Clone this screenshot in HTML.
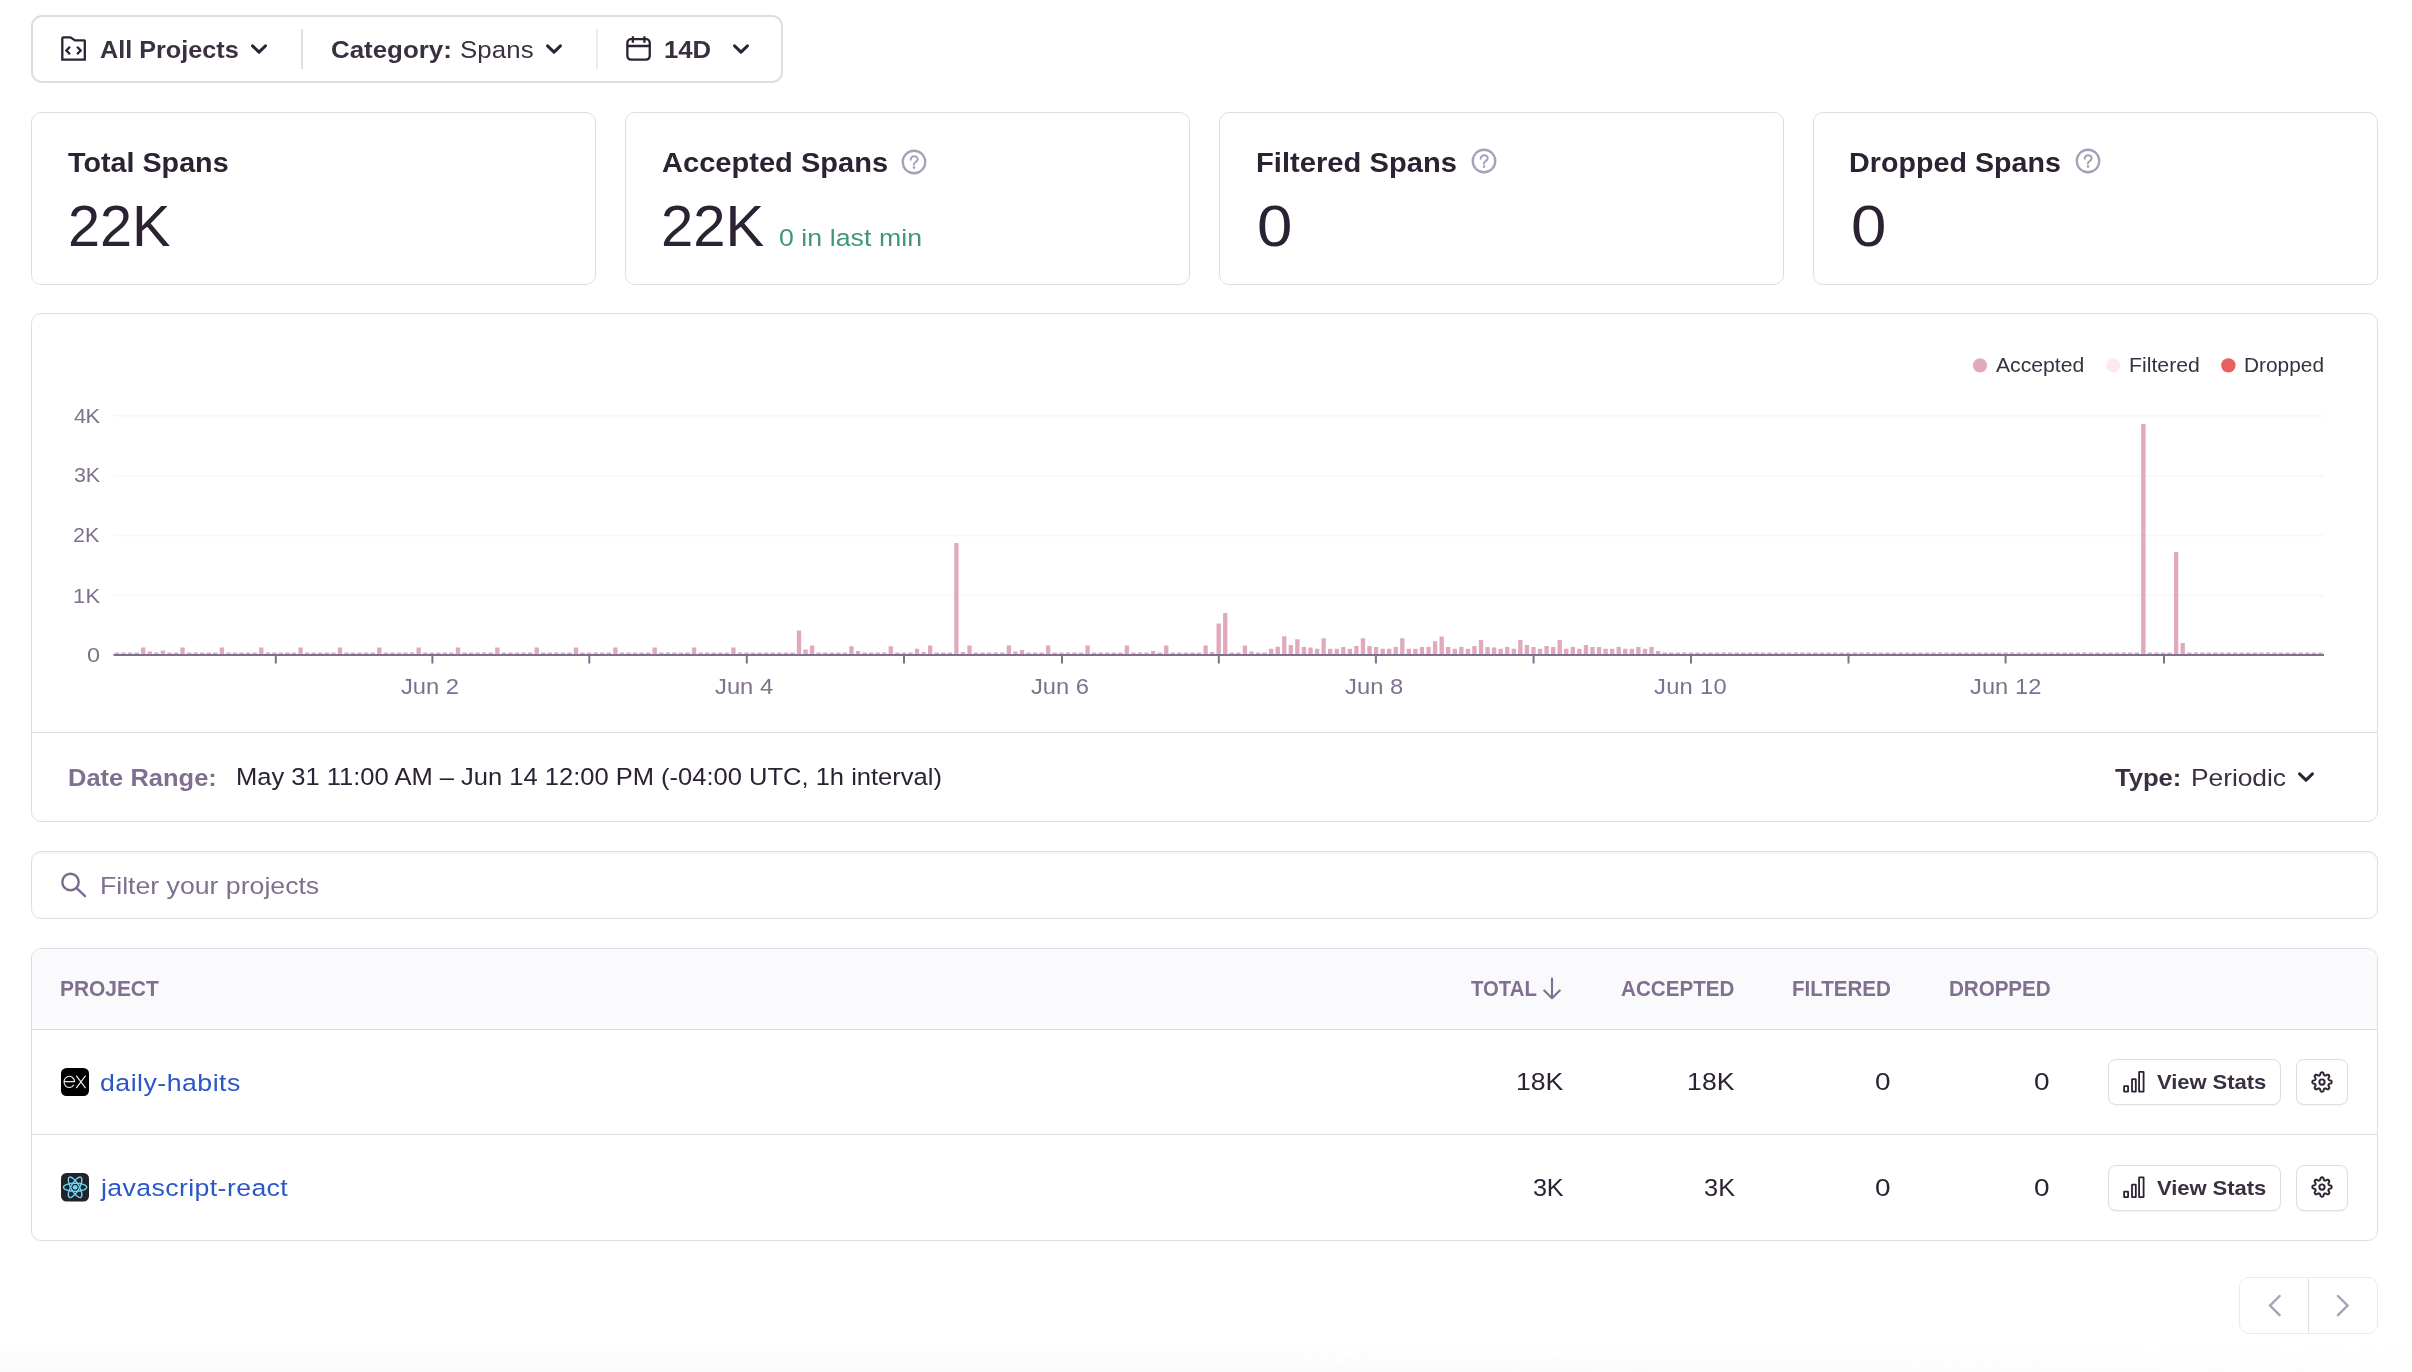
<!DOCTYPE html><html lang="en"><head><meta charset="utf-8"><title>Stats</title><style>
*{box-sizing:border-box}
html,body{margin:0;padding:0}
body{width:2412px;height:1372px;position:relative;overflow:hidden;background:#fff;font-family:'Liberation Sans',sans-serif;color:#2b2233}
#root{position:absolute;left:0;top:0;width:2412px;height:1372px;will-change:transform}
.t{position:absolute;white-space:nowrap;font-family:'Liberation Sans',sans-serif;display:inline-block;transform-origin:0 50%}
.i{position:absolute;overflow:visible}
.box{position:absolute;border:1px solid #e0dce5;border-radius:10px;background:#fff}
.btn{position:absolute;border:1px solid #e0dce5;border-radius:8px;background:#fff;box-shadow:0 1px 1px rgba(43,34,51,.05)}
.ln{position:absolute;background:#e0dce5}
a{text-decoration:none;color:inherit}
</style></head><body><div id="root">
<div style="position:absolute;left:0;top:1342px;width:2412px;height:30px;background:linear-gradient(to bottom,rgba(250,250,250,0),#fafafa);-webkit-mask-image:linear-gradient(to right,#000 0%,#000 45%,rgba(0,0,0,.35) 100%);mask-image:linear-gradient(to right,#000 0%,#000 45%,rgba(0,0,0,.35) 100%)"></div>
<div class="box" style="left:31px;top:15px;width:752px;height:68px;border-width:2px;border-radius:11px"></div>
<svg class="i" style="left:58px;top:33px" width="32" height="32" viewBox="58 33 32 32" ><path d="M62.3 59.7 V38.6 Q62.3 37.3 63.6 37.3 H70.4 L75.0 40.4 H84.2 Q84.8 40.4 84.8 41.0 V59.7 Z" fill="none" stroke="#2b2233" stroke-width="2.3" stroke-linejoin="miter"/><path d="M70 46.8 L66.4 50.5 L70 54.2 M77.1 46.8 L80.7 50.5 L77.1 54.2" fill="none" stroke="#2b2233" stroke-width="2.3"/></svg>
<span class="t" style="left:100.02px;top:34px;font-size:24.50px;letter-spacing:0.00px;line-height:32px;font-weight:700;color:#3a3042;transform:scaleX(1.0285)">All Projects</span>
<svg class="i" style="left:248.64999999999998px;top:40.8px" width="20" height="16" viewBox="248.64999999999998 40.8 20 16" ><path d="M252.20 45.70 L258.65 51.90 L265.10 45.70" fill="none" stroke="#2b2233" stroke-width="3" stroke-linecap="round" stroke-linejoin="round"/></svg>
<div class="ln" style="left:301px;top:29px;width:2px;height:40px"></div>
<span class="t" style="left:330.76px;top:34px;font-size:24.50px;letter-spacing:-0.01px;line-height:32px;font-weight:700;color:#3a3042;transform:scaleX(1.0574)">Category:</span>
<span class="t" style="left:460.21px;top:34px;font-size:24.50px;letter-spacing:0.08px;line-height:32px;font-weight:400;color:#3a3042;transform:scaleX(1.0549)">Spans</span>
<svg class="i" style="left:543.65px;top:40.8px" width="20" height="16" viewBox="543.65 40.8 20 16" ><path d="M547.20 45.70 L553.65 51.90 L560.10 45.70" fill="none" stroke="#2b2233" stroke-width="3" stroke-linecap="round" stroke-linejoin="round"/></svg>
<div class="ln" style="left:596px;top:29px;width:2px;height:40px;background:#ebe8ef"></div>
<svg class="i" style="left:622px;top:32px" width="34" height="34" viewBox="622 32 34 34" ><rect x="627.35" y="39.2" width="22.4" height="20.5" rx="3.6" fill="none" stroke="#2b2233" stroke-width="2.3"/><path d="M627.4 46 H649.8 M632.9 36.3 V42.8 M644.4 36.3 V42.8" fill="none" stroke="#2b2233" stroke-width="2.3"/></svg>
<span class="t" style="left:664.34px;top:34px;font-size:24.50px;letter-spacing:-0.03px;line-height:32px;font-weight:700;color:#3a3042;transform:scaleX(1.0511)">14D</span>
<svg class="i" style="left:730.65px;top:40.8px" width="20" height="16" viewBox="730.65 40.8 20 16" ><path d="M734.20 45.70 L740.65 51.90 L747.10 45.70" fill="none" stroke="#2b2233" stroke-width="3" stroke-linecap="round" stroke-linejoin="round"/></svg>
<div class="box" style="left:31px;top:112px;width:565px;height:173px"></div>
<div class="box" style="left:625px;top:112px;width:565px;height:173px"></div>
<div class="box" style="left:1219px;top:112px;width:565px;height:173px"></div>
<div class="box" style="left:1813px;top:112px;width:565px;height:173px"></div>
<span class="t" style="left:68.31px;top:144px;font-size:28.50px;letter-spacing:0.01px;line-height:37px;font-weight:700;color:#2b2233;transform:scaleX(1.0070)">Total Spans</span>
<span class="t" style="left:661.59px;top:144px;font-size:28.50px;letter-spacing:0.01px;line-height:37px;font-weight:700;color:#2b2233;transform:scaleX(1.0189)">Accepted Spans</span>
<span class="t" style="left:1255.75px;top:144px;font-size:28.50px;letter-spacing:0.04px;line-height:37px;font-weight:700;color:#2b2233;transform:scaleX(1.0201)">Filtered Spans</span>
<span class="t" style="left:1849.49px;top:144px;font-size:28.50px;letter-spacing:0.05px;line-height:37px;font-weight:700;color:#2b2233;transform:scaleX(1.0038)">Dropped Spans</span>
<span class="t" style="left:67.72px;top:188px;font-size:58.00px;letter-spacing:-0.05px;line-height:75px;font-weight:400;color:#2b2233;transform:scaleX(0.9937)">22K</span>
<span class="t" style="left:660.95px;top:188px;font-size:58.00px;letter-spacing:-0.02px;line-height:75px;font-weight:400;color:#2b2233;transform:scaleX(0.9998)">22K</span>
<span class="t" style="left:1256.75px;top:188px;font-size:58.00px;letter-spacing:0.00px;line-height:75px;font-weight:400;color:#2b2233;transform:scaleX(1.0964)">0</span>
<span class="t" style="left:1850.75px;top:188px;font-size:58.00px;letter-spacing:0.00px;line-height:75px;font-weight:400;color:#2b2233;transform:scaleX(1.0964)">0</span>
<span class="t" style="left:778.87px;top:222px;font-size:24.50px;letter-spacing:0.04px;line-height:32px;font-weight:400;color:#3f967b;transform:scaleX(1.0900)">0 in last min</span>
<svg class="i" style="left:900.05px;top:147.85px" width="28" height="28" viewBox="900.05 147.85 28 28" ><circle cx="914.05" cy="161.85" r="11.25" fill="none" stroke="#a89fb8" stroke-width="2.3"/><path d="M910.75 159.65 C910.45 155.25 917.95 154.95 917.75 159.25 C917.55 161.65 913.95 162.05 913.85 164.55" fill="none" stroke="#a89fb8" stroke-width="2" stroke-linecap="round"/><circle cx="914.05" cy="167.45" r="1.3" fill="#a89fb8"/></svg>
<svg class="i" style="left:1469.5px;top:147.3px" width="28" height="28" viewBox="1469.5 147.3 28 28" ><circle cx="1483.5" cy="161.3" r="11.25" fill="none" stroke="#a89fb8" stroke-width="2.3"/><path d="M1480.20 159.10 C1479.90 154.70 1487.40 154.40 1487.20 158.70 C1487.00 161.10 1483.40 161.50 1483.30 164.00" fill="none" stroke="#a89fb8" stroke-width="2" stroke-linecap="round"/><circle cx="1483.5" cy="166.90" r="1.3" fill="#a89fb8"/></svg>
<svg class="i" style="left:2073.6px;top:147.3px" width="28" height="28" viewBox="2073.6 147.3 28 28" ><circle cx="2087.6" cy="161.3" r="11.25" fill="none" stroke="#a89fb8" stroke-width="2.3"/><path d="M2084.30 159.10 C2084.00 154.70 2091.50 154.40 2091.30 158.70 C2091.10 161.10 2087.50 161.50 2087.40 164.00" fill="none" stroke="#a89fb8" stroke-width="2" stroke-linecap="round"/><circle cx="2087.6" cy="166.90" r="1.3" fill="#a89fb8"/></svg>
<div class="box" style="left:31px;top:313px;width:2347px;height:509px"></div>
<div class="ln" style="left:32px;top:732px;width:2345px;height:1px"></div>
<svg class="i" style="left:60px;top:340px" width="2290" height="340" viewBox="60 340 2290 340" ><rect x="114" y="414.9" width="2210" height="1.8" fill="#f8f7fa"/><rect x="114" y="474.8" width="2210" height="1.8" fill="#f8f7fa"/><rect x="114" y="534.6" width="2210" height="1.8" fill="#f8f7fa"/><rect x="114" y="594.5" width="2210" height="1.8" fill="#f8f7fa"/><path d="M114.80 655.0V652.4h4.35V655.0zM121.36 655.0V652.4h4.35V655.0zM127.92 655.0V652.4h4.35V655.0zM134.48 655.0V652.4h4.35V655.0zM141.04 655.0V647.4h4.35V655.0zM147.59 655.0V651.4h4.35V655.0zM154.15 655.0V652.4h4.35V655.0zM160.71 655.0V650.6h4.35V655.0zM167.27 655.0V652.4h4.35V655.0zM173.82 655.0V652.4h4.35V655.0zM180.38 655.0V647.4h4.35V655.0zM186.94 655.0V652.4h4.35V655.0zM193.50 655.0V652.4h4.35V655.0zM200.06 655.0V652.4h4.35V655.0zM206.61 655.0V652.4h4.35V655.0zM213.17 655.0V652.4h4.35V655.0zM219.73 655.0V647.4h4.35V655.0zM226.29 655.0V652.4h4.35V655.0zM232.85 655.0V652.4h4.35V655.0zM239.40 655.0V652.4h4.35V655.0zM245.96 655.0V652.4h4.35V655.0zM252.52 655.0V652.4h4.35V655.0zM259.08 655.0V647.4h4.35V655.0zM265.63 655.0V652.4h4.35V655.0zM272.19 655.0V652.4h4.35V655.0zM278.75 655.0V652.4h4.35V655.0zM285.31 655.0V652.4h4.35V655.0zM291.87 655.0V652.4h4.35V655.0zM298.42 655.0V647.4h4.35V655.0zM304.98 655.0V652.4h4.35V655.0zM311.54 655.0V652.4h4.35V655.0zM318.10 655.0V652.4h4.35V655.0zM324.66 655.0V652.4h4.35V655.0zM331.21 655.0V652.4h4.35V655.0zM337.77 655.0V647.4h4.35V655.0zM344.33 655.0V652.4h4.35V655.0zM350.89 655.0V652.4h4.35V655.0zM357.44 655.0V652.4h4.35V655.0zM364.00 655.0V652.4h4.35V655.0zM370.56 655.0V652.4h4.35V655.0zM377.12 655.0V647.4h4.35V655.0zM383.68 655.0V652.4h4.35V655.0zM390.23 655.0V652.4h4.35V655.0zM396.79 655.0V652.4h4.35V655.0zM403.35 655.0V652.4h4.35V655.0zM409.91 655.0V652.4h4.35V655.0zM416.47 655.0V647.4h4.35V655.0zM423.02 655.0V652.4h4.35V655.0zM429.58 655.0V652.4h4.35V655.0zM436.14 655.0V652.4h4.35V655.0zM442.70 655.0V652.4h4.35V655.0zM449.25 655.0V652.4h4.35V655.0zM455.81 655.0V647.4h4.35V655.0zM462.37 655.0V652.4h4.35V655.0zM468.93 655.0V652.4h4.35V655.0zM475.49 655.0V652.4h4.35V655.0zM482.04 655.0V652.4h4.35V655.0zM488.60 655.0V652.4h4.35V655.0zM495.16 655.0V647.4h4.35V655.0zM501.72 655.0V652.4h4.35V655.0zM508.28 655.0V652.4h4.35V655.0zM514.83 655.0V652.4h4.35V655.0zM521.39 655.0V652.4h4.35V655.0zM527.95 655.0V652.4h4.35V655.0zM534.51 655.0V647.4h4.35V655.0zM541.07 655.0V652.4h4.35V655.0zM547.62 655.0V652.4h4.35V655.0zM554.18 655.0V652.4h4.35V655.0zM560.74 655.0V652.4h4.35V655.0zM567.30 655.0V652.4h4.35V655.0zM573.85 655.0V647.4h4.35V655.0zM580.41 655.0V652.4h4.35V655.0zM586.97 655.0V652.4h4.35V655.0zM593.53 655.0V652.4h4.35V655.0zM600.09 655.0V652.4h4.35V655.0zM606.64 655.0V652.4h4.35V655.0zM613.20 655.0V647.4h4.35V655.0zM619.76 655.0V652.4h4.35V655.0zM626.32 655.0V652.4h4.35V655.0zM632.88 655.0V652.4h4.35V655.0zM639.43 655.0V652.4h4.35V655.0zM645.99 655.0V652.4h4.35V655.0zM652.55 655.0V647.4h4.35V655.0zM659.11 655.0V652.4h4.35V655.0zM665.66 655.0V652.4h4.35V655.0zM672.22 655.0V652.4h4.35V655.0zM678.78 655.0V652.4h4.35V655.0zM685.34 655.0V652.4h4.35V655.0zM691.90 655.0V647.4h4.35V655.0zM698.45 655.0V652.4h4.35V655.0zM705.01 655.0V652.4h4.35V655.0zM711.57 655.0V652.4h4.35V655.0zM718.13 655.0V652.4h4.35V655.0zM724.69 655.0V652.4h4.35V655.0zM731.24 655.0V647.4h4.35V655.0zM737.80 655.0V652.4h4.35V655.0zM744.36 655.0V652.4h4.35V655.0zM750.92 655.0V652.4h4.35V655.0zM757.47 655.0V652.4h4.35V655.0zM764.03 655.0V652.4h4.35V655.0zM770.59 655.0V652.4h4.35V655.0zM777.15 655.0V652.4h4.35V655.0zM783.71 655.0V652.4h4.35V655.0zM790.26 655.0V652.4h4.35V655.0zM796.82 655.0V630.5h4.35V655.0zM803.38 655.0V649.5h4.35V655.0zM809.94 655.0V645.4h4.35V655.0zM816.50 655.0V652.4h4.35V655.0zM823.05 655.0V652.4h4.35V655.0zM829.61 655.0V652.4h4.35V655.0zM836.17 655.0V652.4h4.35V655.0zM842.73 655.0V652.4h4.35V655.0zM849.28 655.0V646.2h4.35V655.0zM855.84 655.0V651.0h4.35V655.0zM862.40 655.0V652.4h4.35V655.0zM868.96 655.0V652.4h4.35V655.0zM875.52 655.0V652.4h4.35V655.0zM882.07 655.0V652.4h4.35V655.0zM888.63 655.0V646.2h4.35V655.0zM895.19 655.0V652.4h4.35V655.0zM901.75 655.0V652.4h4.35V655.0zM908.31 655.0V652.4h4.35V655.0zM914.86 655.0V648.7h4.35V655.0zM921.42 655.0V652.0h4.35V655.0zM927.98 655.0V645.4h4.35V655.0zM934.54 655.0V652.4h4.35V655.0zM941.09 655.0V652.4h4.35V655.0zM947.65 655.0V652.4h4.35V655.0zM954.21 655.0V543.0h4.35V655.0zM960.77 655.0V652.0h4.35V655.0zM967.33 655.0V645.4h4.35V655.0zM973.88 655.0V652.4h4.35V655.0zM980.44 655.0V652.4h4.35V655.0zM987.00 655.0V652.4h4.35V655.0zM993.56 655.0V652.4h4.35V655.0zM1000.12 655.0V652.4h4.35V655.0zM1006.67 655.0V645.4h4.35V655.0zM1013.23 655.0V651.5h4.35V655.0zM1019.79 655.0V649.9h4.35V655.0zM1026.35 655.0V652.4h4.35V655.0zM1032.90 655.0V652.4h4.35V655.0zM1039.46 655.0V652.4h4.35V655.0zM1046.02 655.0V645.4h4.35V655.0zM1052.58 655.0V652.4h4.35V655.0zM1059.14 655.0V652.4h4.35V655.0zM1065.69 655.0V652.4h4.35V655.0zM1072.25 655.0V652.4h4.35V655.0zM1078.81 655.0V652.4h4.35V655.0zM1085.37 655.0V645.4h4.35V655.0zM1091.93 655.0V652.4h4.35V655.0zM1098.48 655.0V652.4h4.35V655.0zM1105.04 655.0V652.4h4.35V655.0zM1111.60 655.0V652.4h4.35V655.0zM1118.16 655.0V652.4h4.35V655.0zM1124.71 655.0V645.4h4.35V655.0zM1131.27 655.0V652.4h4.35V655.0zM1137.83 655.0V652.4h4.35V655.0zM1144.39 655.0V652.4h4.35V655.0zM1150.95 655.0V651.0h4.35V655.0zM1157.50 655.0V652.4h4.35V655.0zM1164.06 655.0V645.4h4.35V655.0zM1170.62 655.0V652.4h4.35V655.0zM1177.18 655.0V652.4h4.35V655.0zM1183.74 655.0V652.4h4.35V655.0zM1190.29 655.0V652.4h4.35V655.0zM1196.85 655.0V652.4h4.35V655.0zM1203.41 655.0V645.4h4.35V655.0zM1209.97 655.0V652.0h4.35V655.0zM1216.53 655.0V623.5h4.35V655.0zM1223.08 655.0V613.0h4.35V655.0zM1229.64 655.0V652.4h4.35V655.0zM1236.20 655.0V652.4h4.35V655.0zM1242.76 655.0V645.4h4.35V655.0zM1249.31 655.0V651.5h4.35V655.0zM1255.87 655.0V652.4h4.35V655.0zM1262.43 655.0V652.4h4.35V655.0zM1268.99 655.0V648.7h4.35V655.0zM1275.55 655.0V646.7h4.35V655.0zM1282.10 655.0V636.3h4.35V655.0zM1288.66 655.0V645.0h4.35V655.0zM1295.22 655.0V639.2h4.35V655.0zM1301.78 655.0V647.0h4.35V655.0zM1308.34 655.0V647.5h4.35V655.0zM1314.89 655.0V648.7h4.35V655.0zM1321.45 655.0V638.3h4.35V655.0zM1328.01 655.0V648.7h4.35V655.0zM1334.57 655.0V648.7h4.35V655.0zM1341.12 655.0V647.0h4.35V655.0zM1347.68 655.0V648.7h4.35V655.0zM1354.24 655.0V645.9h4.35V655.0zM1360.80 655.0V638.3h4.35V655.0zM1367.36 655.0V645.9h4.35V655.0zM1373.91 655.0V647.0h4.35V655.0zM1380.47 655.0V648.7h4.35V655.0zM1387.03 655.0V648.7h4.35V655.0zM1393.59 655.0V647.0h4.35V655.0zM1400.15 655.0V638.3h4.35V655.0zM1406.70 655.0V648.7h4.35V655.0zM1413.26 655.0V648.7h4.35V655.0zM1419.82 655.0V647.0h4.35V655.0zM1426.38 655.0V647.0h4.35V655.0zM1432.93 655.0V641.2h4.35V655.0zM1439.49 655.0V636.6h4.35V655.0zM1446.05 655.0V647.0h4.35V655.0zM1452.61 655.0V648.7h4.35V655.0zM1459.17 655.0V647.0h4.35V655.0zM1465.72 655.0V648.7h4.35V655.0zM1472.28 655.0V645.9h4.35V655.0zM1478.84 655.0V640.0h4.35V655.0zM1485.40 655.0V647.0h4.35V655.0zM1491.96 655.0V647.5h4.35V655.0zM1498.51 655.0V648.7h4.35V655.0zM1505.07 655.0V647.0h4.35V655.0zM1511.63 655.0V648.7h4.35V655.0zM1518.19 655.0V640.0h4.35V655.0zM1524.74 655.0V645.0h4.35V655.0zM1531.30 655.0V647.0h4.35V655.0zM1537.86 655.0V648.7h4.35V655.0zM1544.42 655.0V646.0h4.35V655.0zM1550.98 655.0V647.0h4.35V655.0zM1557.53 655.0V640.0h4.35V655.0zM1564.09 655.0V648.7h4.35V655.0zM1570.65 655.0V647.0h4.35V655.0zM1577.21 655.0V648.7h4.35V655.0zM1583.77 655.0V645.0h4.35V655.0zM1590.32 655.0V647.0h4.35V655.0zM1596.88 655.0V647.0h4.35V655.0zM1603.44 655.0V648.7h4.35V655.0zM1610.00 655.0V648.7h4.35V655.0zM1616.55 655.0V647.0h4.35V655.0zM1623.11 655.0V648.7h4.35V655.0zM1629.67 655.0V648.7h4.35V655.0zM1636.23 655.0V647.0h4.35V655.0zM1642.79 655.0V648.7h4.35V655.0zM1649.34 655.0V647.0h4.35V655.0zM1655.90 655.0V651.0h4.35V655.0zM1662.46 655.0V652.6h4.35V655.0zM1669.02 655.0V652.6h4.35V655.0zM1675.58 655.0V652.6h4.35V655.0zM1682.13 655.0V652.6h4.35V655.0zM1688.69 655.0V652.6h4.35V655.0zM1695.25 655.0V652.6h4.35V655.0zM1701.81 655.0V652.6h4.35V655.0zM1708.36 655.0V652.6h4.35V655.0zM1714.92 655.0V652.6h4.35V655.0zM1721.48 655.0V652.6h4.35V655.0zM1728.04 655.0V652.6h4.35V655.0zM1734.60 655.0V652.6h4.35V655.0zM1741.15 655.0V652.6h4.35V655.0zM1747.71 655.0V652.6h4.35V655.0zM1754.27 655.0V652.6h4.35V655.0zM1760.83 655.0V652.6h4.35V655.0zM1767.39 655.0V652.6h4.35V655.0zM1773.94 655.0V652.6h4.35V655.0zM1780.50 655.0V652.6h4.35V655.0zM1787.06 655.0V652.6h4.35V655.0zM1793.62 655.0V652.6h4.35V655.0zM1800.17 655.0V652.6h4.35V655.0zM1806.73 655.0V652.6h4.35V655.0zM1813.29 655.0V652.6h4.35V655.0zM1819.85 655.0V652.6h4.35V655.0zM1826.41 655.0V652.6h4.35V655.0zM1832.96 655.0V652.6h4.35V655.0zM1839.52 655.0V652.6h4.35V655.0zM1846.08 655.0V652.6h4.35V655.0zM1852.64 655.0V652.6h4.35V655.0zM1859.20 655.0V652.6h4.35V655.0zM1865.75 655.0V652.6h4.35V655.0zM1872.31 655.0V652.6h4.35V655.0zM1878.87 655.0V652.6h4.35V655.0zM1885.43 655.0V652.6h4.35V655.0zM1891.98 655.0V652.6h4.35V655.0zM1898.54 655.0V652.6h4.35V655.0zM1905.10 655.0V652.6h4.35V655.0zM1911.66 655.0V652.6h4.35V655.0zM1918.22 655.0V652.6h4.35V655.0zM1924.77 655.0V652.6h4.35V655.0zM1931.33 655.0V652.6h4.35V655.0zM1937.89 655.0V652.6h4.35V655.0zM1944.45 655.0V652.6h4.35V655.0zM1951.01 655.0V652.6h4.35V655.0zM1957.56 655.0V652.6h4.35V655.0zM1964.12 655.0V652.6h4.35V655.0zM1970.68 655.0V652.6h4.35V655.0zM1977.24 655.0V652.6h4.35V655.0zM1983.80 655.0V652.6h4.35V655.0zM1990.35 655.0V652.6h4.35V655.0zM1996.91 655.0V652.6h4.35V655.0zM2003.47 655.0V652.6h4.35V655.0zM2010.03 655.0V652.6h4.35V655.0zM2016.58 655.0V652.6h4.35V655.0zM2023.14 655.0V652.6h4.35V655.0zM2029.70 655.0V652.6h4.35V655.0zM2036.26 655.0V652.6h4.35V655.0zM2042.82 655.0V652.6h4.35V655.0zM2049.37 655.0V652.6h4.35V655.0zM2055.93 655.0V652.6h4.35V655.0zM2062.49 655.0V652.6h4.35V655.0zM2069.05 655.0V652.6h4.35V655.0zM2075.61 655.0V652.6h4.35V655.0zM2082.16 655.0V652.6h4.35V655.0zM2088.72 655.0V652.6h4.35V655.0zM2095.28 655.0V652.6h4.35V655.0zM2101.84 655.0V652.6h4.35V655.0zM2108.39 655.0V652.6h4.35V655.0zM2114.95 655.0V652.6h4.35V655.0zM2121.51 655.0V652.6h4.35V655.0zM2128.07 655.0V652.6h4.35V655.0zM2134.63 655.0V652.6h4.35V655.0zM2141.18 655.0V424.0h4.35V655.0zM2147.74 655.0V652.6h4.35V655.0zM2154.30 655.0V652.6h4.35V655.0zM2160.86 655.0V652.6h4.35V655.0zM2167.42 655.0V652.6h4.35V655.0zM2173.97 655.0V552.0h4.35V655.0zM2180.53 655.0V643.0h4.35V655.0zM2187.09 655.0V652.6h4.35V655.0zM2193.65 655.0V652.6h4.35V655.0zM2200.20 655.0V652.6h4.35V655.0zM2206.76 655.0V652.6h4.35V655.0zM2213.32 655.0V652.6h4.35V655.0zM2219.88 655.0V652.6h4.35V655.0zM2226.44 655.0V652.6h4.35V655.0zM2232.99 655.0V652.6h4.35V655.0zM2239.55 655.0V652.6h4.35V655.0zM2246.11 655.0V652.6h4.35V655.0zM2252.67 655.0V652.6h4.35V655.0zM2259.23 655.0V652.6h4.35V655.0zM2265.78 655.0V652.6h4.35V655.0zM2272.34 655.0V652.6h4.35V655.0zM2278.90 655.0V652.6h4.35V655.0zM2285.46 655.0V652.6h4.35V655.0zM2292.01 655.0V652.6h4.35V655.0zM2298.57 655.0V652.6h4.35V655.0zM2305.13 655.0V652.6h4.35V655.0zM2311.69 655.0V652.6h4.35V655.0zM2318.25 655.0V652.6h4.35V655.0z" fill="#e0a9bc"/><rect x="113.5" y="654" width="2210.5" height="2" fill="#80708f"/><rect x="274.8" y="655" width="2" height="8.5" fill="#80708f"/><rect x="431.4" y="655" width="2" height="8.5" fill="#80708f"/><rect x="588.3" y="655" width="2" height="8.5" fill="#80708f"/><rect x="745.8" y="655" width="2" height="8.5" fill="#80708f"/><rect x="903.0" y="655" width="2" height="8.5" fill="#80708f"/><rect x="1061.0" y="655" width="2" height="8.5" fill="#80708f"/><rect x="1217.8" y="655" width="2" height="8.5" fill="#80708f"/><rect x="1374.9" y="655" width="2" height="8.5" fill="#80708f"/><rect x="1532.6" y="655" width="2" height="8.5" fill="#80708f"/><rect x="1690.0" y="655" width="2" height="8.5" fill="#80708f"/><rect x="1847.5" y="655" width="2" height="8.5" fill="#80708f"/><rect x="2004.6" y="655" width="2" height="8.5" fill="#80708f"/><rect x="2163.0" y="655" width="2" height="8.5" fill="#80708f"/><circle cx="1980" cy="365.4" r="7.1" fill="#e0a9bc"/><circle cx="2113.3" cy="365.4" r="7.1" fill="#fce9f1"/><circle cx="2228.4" cy="365.4" r="7.2" fill="#e5605e"/></svg>
<span class="t" style="left:1996.32px;top:353px;font-size:19.50px;letter-spacing:0.00px;line-height:25px;font-weight:400;color:#3a3042;transform:scaleX(1.0851)">Accepted</span>
<span class="t" style="left:2129.16px;top:353px;font-size:19.50px;letter-spacing:0.01px;line-height:25px;font-weight:400;color:#3a3042;transform:scaleX(1.0882)">Filtered</span>
<span class="t" style="left:2243.70px;top:353px;font-size:19.50px;letter-spacing:0.02px;line-height:25px;font-weight:400;color:#3a3042;transform:scaleX(1.0672)">Dropped</span>
<span class="t" style="left:73.82px;top:403px;font-size:20.20px;letter-spacing:-0.45px;line-height:26px;font-weight:400;color:#80708f;transform:scaleX(1.0772)">4K</span>
<span class="t" style="left:73.81px;top:462px;font-size:20.20px;letter-spacing:-0.09px;line-height:26px;font-weight:400;color:#80708f;transform:scaleX(1.0648)">3K</span>
<span class="t" style="left:73.30px;top:522px;font-size:20.20px;letter-spacing:-0.00px;line-height:26px;font-weight:400;color:#80708f;transform:scaleX(1.0650)">2K</span>
<span class="t" style="left:73.21px;top:583px;font-size:20.20px;letter-spacing:0.14px;line-height:26px;font-weight:400;color:#80708f;transform:scaleX(1.0889)">1K</span>
<span class="t" style="left:86.58px;top:642px;font-size:20.20px;letter-spacing:0.00px;line-height:26px;font-weight:400;color:#80708f;transform:scaleX(1.1600)">0</span>
<span class="t" style="left:400.54px;top:673px;font-size:21.80px;letter-spacing:-0.02px;line-height:28px;font-weight:400;color:#80708f;transform:scaleX(1.0895)">Jun 2</span>
<span class="t" style="left:715.37px;top:673px;font-size:21.80px;letter-spacing:-0.00px;line-height:28px;font-weight:400;color:#80708f;transform:scaleX(1.0900)">Jun 4</span>
<span class="t" style="left:1030.54px;top:673px;font-size:21.80px;letter-spacing:-0.02px;line-height:28px;font-weight:400;color:#80708f;transform:scaleX(1.0877)">Jun 6</span>
<span class="t" style="left:1344.76px;top:673px;font-size:21.80px;letter-spacing:0.02px;line-height:28px;font-weight:400;color:#80708f;transform:scaleX(1.0900)">Jun 8</span>
<span class="t" style="left:1654.16px;top:673px;font-size:21.80px;letter-spacing:0.24px;line-height:28px;font-weight:400;color:#80708f;transform:scaleX(1.0900)">Jun 10</span>
<span class="t" style="left:1970.13px;top:673px;font-size:21.80px;letter-spacing:0.06px;line-height:28px;font-weight:400;color:#80708f;transform:scaleX(1.0848)">Jun 12</span>
<span class="t" style="left:67.74px;top:762px;font-size:24.50px;letter-spacing:0.04px;line-height:32px;font-weight:700;color:#80708f;transform:scaleX(1.0383)">Date Range:</span>
<span class="t" style="left:236.06px;top:761px;font-size:24.50px;letter-spacing:-0.00px;line-height:32px;font-weight:400;color:#2b2233;transform:scaleX(1.0416)">May 31 11:00 AM – Jun 14 12:00 PM (-04:00 UTC, 1h interval)</span>
<span class="t" style="left:2115.21px;top:762px;font-size:24.50px;letter-spacing:-0.06px;line-height:32px;font-weight:700;color:#3a3042;transform:scaleX(1.0484)">Type:</span>
<span class="t" style="left:2190.71px;top:762px;font-size:24.50px;letter-spacing:-0.06px;line-height:32px;font-weight:400;color:#3a3042;transform:scaleX(1.0784)">Periodic</span>
<svg class="i" style="left:2295.75px;top:769.0px" width="20" height="16" viewBox="2295.75 769.0 20 16" ><path d="M2299.30 773.90 L2305.75 780.10 L2312.20 773.90" fill="none" stroke="#2b2233" stroke-width="3" stroke-linecap="round" stroke-linejoin="round"/></svg>
<div class="box" style="left:31px;top:851px;width:2347px;height:68px;box-shadow:inset 0 2px 2px rgba(43,34,51,.04)"></div>
<svg class="i" style="left:58px;top:868px" width="32" height="32" viewBox="58 868 32 32" ><circle cx="70.5" cy="882" r="8.2" fill="none" stroke="#7b6b8f" stroke-width="2.4"/><path d="M76.6 888.1 L85.0 896.2" stroke="#7b6b8f" stroke-width="2.4" stroke-linecap="round"/></svg>
<span class="t" style="left:99.66px;top:870px;font-size:24.50px;letter-spacing:-0.02px;line-height:32px;font-weight:400;color:#80708f;transform:scaleX(1.0900)">Filter your projects</span>
<div class="box" style="left:31px;top:948px;width:2347px;height:293px;overflow:hidden"><div style="position:absolute;left:0;top:0;width:100%;height:81px;background:#faf9fb;border-bottom:1px solid #e0dce5"></div><div style="position:absolute;left:0;top:185px;width:100%;height:1px;background:#e0dce5"></div></div>
<span class="t" style="left:60.27px;top:975px;font-size:21.40px;letter-spacing:-0.06px;line-height:28px;font-weight:700;color:#80708f;transform:scaleX(0.9808)">PROJECT</span>
<span class="t" style="left:1471.10px;top:975px;font-size:21.40px;letter-spacing:0.00px;line-height:28px;font-weight:700;color:#80708f;transform:scaleX(0.9493)">TOTAL</span>
<span class="t" style="left:1620.75px;top:975px;font-size:21.40px;letter-spacing:0.02px;line-height:28px;font-weight:700;color:#80708f;transform:scaleX(0.9634)">ACCEPTED</span>
<span class="t" style="left:1791.93px;top:975px;font-size:21.40px;letter-spacing:-0.04px;line-height:28px;font-weight:700;color:#80708f;transform:scaleX(0.9636)">FILTERED</span>
<span class="t" style="left:1948.50px;top:975px;font-size:21.40px;letter-spacing:-0.12px;line-height:28px;font-weight:700;color:#80708f;transform:scaleX(0.9679)">DROPPED</span>
<svg class="i" style="left:1540px;top:974px" width="26" height="30" viewBox="1540 974 26 30" ><path d="M1552 978.6 V998 M1544.2 990.4 L1552 998.2 L1559.8 990.4" fill="none" stroke="#80708f" stroke-width="2.1" stroke-linecap="round" stroke-linejoin="round"/></svg>
<svg class="i" style="left:60px;top:1067px" width="30" height="30" viewBox="60 1067 30 30" ><rect x="61" y="1068" width="28" height="28" rx="5.5" fill="#000"/><path d="M64.30 1081.60 H74.60 A5.3 5.6 0 1 0 73.90 1084.70" fill="none" stroke="#f2f2f2" stroke-width="1.15"/><path d="M76.20 1075.60 L85.60 1088.20 M85.60 1075.60 L76.20 1088.20" fill="none" stroke="#f2f2f2" stroke-width="1.15"/></svg>
<a href="#"><span class="t" style="left:100.13px;top:1067px;font-size:24.50px;letter-spacing:0.44px;line-height:32px;font-weight:400;color:#2b57c8;transform:scaleX(1.0900)">daily-habits</span></a>
<svg class="i" style="left:60px;top:1172px" width="30" height="31" viewBox="60 1172 30 31" ><rect x="61" y="1173" width="28" height="28.6" rx="5.5" fill="#20232a"/><ellipse cx="75.1" cy="1187.3" rx="11.6" ry="4.1" fill="none" stroke="#6fd6f5" stroke-width="1.35" transform="rotate(0 75.1 1187.3)"/><ellipse cx="75.1" cy="1187.3" rx="11.6" ry="4.1" fill="none" stroke="#6fd6f5" stroke-width="1.35" transform="rotate(60 75.1 1187.3)"/><ellipse cx="75.1" cy="1187.3" rx="11.6" ry="4.1" fill="none" stroke="#6fd6f5" stroke-width="1.35" transform="rotate(120 75.1 1187.3)"/><circle cx="75.1" cy="1187.3" r="2.4" fill="#6fd6f5"/></svg>
<a href="#"><span class="t" style="left:100.50px;top:1172px;font-size:24.50px;letter-spacing:0.35px;line-height:32px;font-weight:400;color:#2b57c8;transform:scaleX(1.0900)">javascript-react</span></a>
<span class="t" style="left:1516.35px;top:1066px;font-size:24.50px;letter-spacing:-0.07px;line-height:32px;font-weight:400;color:#2b2233;transform:scaleX(1.0878)">18K</span>
<span class="t" style="left:1687.29px;top:1066px;font-size:24.50px;letter-spacing:0.08px;line-height:32px;font-weight:400;color:#2b2233;transform:scaleX(1.0854)">18K</span>
<span class="t" style="left:1875.05px;top:1066px;font-size:24.50px;letter-spacing:0.00px;line-height:32px;font-weight:400;color:#2b2233;transform:scaleX(1.1398)">0</span>
<span class="t" style="left:2034.47px;top:1066px;font-size:24.50px;letter-spacing:0.00px;line-height:32px;font-weight:400;color:#2b2233;transform:scaleX(1.1417)">0</span>
<span class="t" style="left:1532.53px;top:1172px;font-size:24.50px;letter-spacing:-0.14px;line-height:32px;font-weight:400;color:#2b2233;transform:scaleX(1.0279)">3K</span>
<span class="t" style="left:1703.84px;top:1172px;font-size:24.50px;letter-spacing:0.07px;line-height:32px;font-weight:400;color:#2b2233;transform:scaleX(1.0350)">3K</span>
<span class="t" style="left:1875.05px;top:1172px;font-size:24.50px;letter-spacing:0.00px;line-height:32px;font-weight:400;color:#2b2233;transform:scaleX(1.1398)">0</span>
<span class="t" style="left:2034.47px;top:1172px;font-size:24.50px;letter-spacing:0.00px;line-height:32px;font-weight:400;color:#2b2233;transform:scaleX(1.1417)">0</span>
<div class="btn" style="left:2108px;top:1059px;width:173px;height:46px"></div><svg class="i" style="left:2121px;top:1069px" width="28" height="28" viewBox="2121 1069 28 28" ><rect x="2124.10" y="1086.20" width="4.00" height="5.40" rx="0.3" fill="none" stroke="#2b2233" stroke-width="1.8"/><rect x="2132.00" y="1079.20" width="3.80" height="12.40" rx="0.3" fill="none" stroke="#2b2233" stroke-width="1.8"/><rect x="2139.10" y="1071.90" width="4.50" height="19.70" rx="0.3" fill="none" stroke="#2b2233" stroke-width="1.8"/></svg><span class="t" style="left:2156.63px;top:1068px;font-size:21.00px;letter-spacing:-0.07px;line-height:27px;font-weight:700;color:#3a3042;transform:scaleX(1.0493)">View Stats</span>
<div class="btn" style="left:2296px;top:1059px;width:52px;height:46px"></div><svg class="i" style="left:2307.8px;top:1067.7px" width="28" height="28" viewBox="2307.8 1067.7 28 28" ><path d="M2321.80 1072.00 L2322.18 1072.04 L2322.55 1072.18 L2322.90 1072.41 L2323.22 1072.75 L2323.43 1073.51 L2323.58 1074.27 L2323.79 1074.63 L2324.01 1074.90 L2324.24 1075.10 L2324.48 1075.23 L2324.75 1075.31 L2325.05 1075.33 L2325.39 1075.29 L2325.79 1075.18 L2326.44 1074.76 L2327.12 1074.37 L2327.59 1074.35 L2328.00 1074.44 L2328.36 1074.60 L2328.66 1074.84 L2328.90 1075.14 L2329.06 1075.50 L2329.15 1075.91 L2329.13 1076.38 L2328.74 1077.06 L2328.32 1077.71 L2328.21 1078.11 L2328.17 1078.45 L2328.19 1078.75 L2328.27 1079.02 L2328.40 1079.26 L2328.60 1079.49 L2328.87 1079.71 L2329.23 1079.92 L2329.99 1080.07 L2330.75 1080.28 L2331.09 1080.60 L2331.32 1080.95 L2331.46 1081.32 L2331.50 1081.70 L2331.46 1082.08 L2331.32 1082.45 L2331.09 1082.80 L2330.75 1083.12 L2329.99 1083.33 L2329.23 1083.48 L2328.87 1083.69 L2328.60 1083.91 L2328.40 1084.14 L2328.27 1084.38 L2328.19 1084.65 L2328.17 1084.95 L2328.21 1085.29 L2328.32 1085.69 L2328.74 1086.34 L2329.13 1087.02 L2329.15 1087.49 L2329.06 1087.90 L2328.90 1088.26 L2328.66 1088.56 L2328.36 1088.80 L2328.00 1088.96 L2327.59 1089.05 L2327.12 1089.03 L2326.44 1088.64 L2325.79 1088.22 L2325.39 1088.11 L2325.05 1088.07 L2324.75 1088.09 L2324.48 1088.17 L2324.24 1088.30 L2324.01 1088.50 L2323.79 1088.77 L2323.58 1089.13 L2323.43 1089.89 L2323.22 1090.65 L2322.90 1090.99 L2322.55 1091.22 L2322.18 1091.36 L2321.80 1091.40 L2321.42 1091.36 L2321.05 1091.22 L2320.70 1090.99 L2320.38 1090.65 L2320.17 1089.89 L2320.02 1089.13 L2319.81 1088.77 L2319.59 1088.50 L2319.36 1088.30 L2319.12 1088.17 L2318.85 1088.09 L2318.55 1088.07 L2318.21 1088.11 L2317.81 1088.22 L2317.16 1088.64 L2316.48 1089.03 L2316.01 1089.05 L2315.60 1088.96 L2315.24 1088.80 L2314.94 1088.56 L2314.70 1088.26 L2314.54 1087.90 L2314.45 1087.49 L2314.47 1087.02 L2314.86 1086.34 L2315.28 1085.69 L2315.39 1085.29 L2315.43 1084.95 L2315.41 1084.65 L2315.33 1084.38 L2315.20 1084.14 L2315.00 1083.91 L2314.73 1083.69 L2314.37 1083.48 L2313.61 1083.33 L2312.85 1083.12 L2312.51 1082.80 L2312.28 1082.45 L2312.14 1082.08 L2312.10 1081.70 L2312.14 1081.32 L2312.28 1080.95 L2312.51 1080.60 L2312.85 1080.28 L2313.61 1080.07 L2314.37 1079.92 L2314.73 1079.71 L2315.00 1079.49 L2315.20 1079.26 L2315.33 1079.02 L2315.41 1078.75 L2315.43 1078.45 L2315.39 1078.11 L2315.28 1077.71 L2314.86 1077.06 L2314.47 1076.38 L2314.45 1075.91 L2314.54 1075.50 L2314.70 1075.14 L2314.94 1074.84 L2315.24 1074.60 L2315.60 1074.44 L2316.01 1074.35 L2316.48 1074.37 L2317.16 1074.76 L2317.81 1075.18 L2318.21 1075.29 L2318.55 1075.33 L2318.85 1075.31 L2319.12 1075.23 L2319.36 1075.10 L2319.59 1074.90 L2319.81 1074.63 L2320.02 1074.27 L2320.17 1073.51 L2320.38 1072.75 L2320.70 1072.41 L2321.05 1072.18 L2321.42 1072.04Z" fill="none" stroke="#2b2233" stroke-width="1.95" stroke-linejoin="round"/><circle cx="2321.8" cy="1081.7" r="2.65" fill="none" stroke="#2b2233" stroke-width="1.95"/></svg>
<div class="btn" style="left:2108px;top:1164.5px;width:173px;height:46px"></div><svg class="i" style="left:2121px;top:1174px" width="28" height="28" viewBox="2121 1174 28 28" ><rect x="2124.10" y="1191.70" width="4.00" height="5.40" rx="0.3" fill="none" stroke="#2b2233" stroke-width="1.8"/><rect x="2132.00" y="1184.70" width="3.80" height="12.40" rx="0.3" fill="none" stroke="#2b2233" stroke-width="1.8"/><rect x="2139.10" y="1177.40" width="4.50" height="19.70" rx="0.3" fill="none" stroke="#2b2233" stroke-width="1.8"/></svg><span class="t" style="left:2156.63px;top:1174px;font-size:21.00px;letter-spacing:-0.07px;line-height:27px;font-weight:700;color:#3a3042;transform:scaleX(1.0493)">View Stats</span>
<div class="btn" style="left:2296px;top:1164.5px;width:52px;height:46px"></div><svg class="i" style="left:2307.8px;top:1173.2px" width="28" height="28" viewBox="2307.8 1173.2 28 28" ><path d="M2321.80 1177.50 L2322.18 1177.54 L2322.55 1177.68 L2322.90 1177.91 L2323.22 1178.25 L2323.43 1179.01 L2323.58 1179.77 L2323.79 1180.13 L2324.01 1180.40 L2324.24 1180.60 L2324.48 1180.73 L2324.75 1180.81 L2325.05 1180.83 L2325.39 1180.79 L2325.79 1180.68 L2326.44 1180.26 L2327.12 1179.87 L2327.59 1179.85 L2328.00 1179.94 L2328.36 1180.10 L2328.66 1180.34 L2328.90 1180.64 L2329.06 1181.00 L2329.15 1181.41 L2329.13 1181.88 L2328.74 1182.56 L2328.32 1183.21 L2328.21 1183.61 L2328.17 1183.95 L2328.19 1184.25 L2328.27 1184.52 L2328.40 1184.76 L2328.60 1184.99 L2328.87 1185.21 L2329.23 1185.42 L2329.99 1185.57 L2330.75 1185.78 L2331.09 1186.10 L2331.32 1186.45 L2331.46 1186.82 L2331.50 1187.20 L2331.46 1187.58 L2331.32 1187.95 L2331.09 1188.30 L2330.75 1188.62 L2329.99 1188.83 L2329.23 1188.98 L2328.87 1189.19 L2328.60 1189.41 L2328.40 1189.64 L2328.27 1189.88 L2328.19 1190.15 L2328.17 1190.45 L2328.21 1190.79 L2328.32 1191.19 L2328.74 1191.84 L2329.13 1192.52 L2329.15 1192.99 L2329.06 1193.40 L2328.90 1193.76 L2328.66 1194.06 L2328.36 1194.30 L2328.00 1194.46 L2327.59 1194.55 L2327.12 1194.53 L2326.44 1194.14 L2325.79 1193.72 L2325.39 1193.61 L2325.05 1193.57 L2324.75 1193.59 L2324.48 1193.67 L2324.24 1193.80 L2324.01 1194.00 L2323.79 1194.27 L2323.58 1194.63 L2323.43 1195.39 L2323.22 1196.15 L2322.90 1196.49 L2322.55 1196.72 L2322.18 1196.86 L2321.80 1196.90 L2321.42 1196.86 L2321.05 1196.72 L2320.70 1196.49 L2320.38 1196.15 L2320.17 1195.39 L2320.02 1194.63 L2319.81 1194.27 L2319.59 1194.00 L2319.36 1193.80 L2319.12 1193.67 L2318.85 1193.59 L2318.55 1193.57 L2318.21 1193.61 L2317.81 1193.72 L2317.16 1194.14 L2316.48 1194.53 L2316.01 1194.55 L2315.60 1194.46 L2315.24 1194.30 L2314.94 1194.06 L2314.70 1193.76 L2314.54 1193.40 L2314.45 1192.99 L2314.47 1192.52 L2314.86 1191.84 L2315.28 1191.19 L2315.39 1190.79 L2315.43 1190.45 L2315.41 1190.15 L2315.33 1189.88 L2315.20 1189.64 L2315.00 1189.41 L2314.73 1189.19 L2314.37 1188.98 L2313.61 1188.83 L2312.85 1188.62 L2312.51 1188.30 L2312.28 1187.95 L2312.14 1187.58 L2312.10 1187.20 L2312.14 1186.82 L2312.28 1186.45 L2312.51 1186.10 L2312.85 1185.78 L2313.61 1185.57 L2314.37 1185.42 L2314.73 1185.21 L2315.00 1184.99 L2315.20 1184.76 L2315.33 1184.52 L2315.41 1184.25 L2315.43 1183.95 L2315.39 1183.61 L2315.28 1183.21 L2314.86 1182.56 L2314.47 1181.88 L2314.45 1181.41 L2314.54 1181.00 L2314.70 1180.64 L2314.94 1180.34 L2315.24 1180.10 L2315.60 1179.94 L2316.01 1179.85 L2316.48 1179.87 L2317.16 1180.26 L2317.81 1180.68 L2318.21 1180.79 L2318.55 1180.83 L2318.85 1180.81 L2319.12 1180.73 L2319.36 1180.60 L2319.59 1180.40 L2319.81 1180.13 L2320.02 1179.77 L2320.17 1179.01 L2320.38 1178.25 L2320.70 1177.91 L2321.05 1177.68 L2321.42 1177.54Z" fill="none" stroke="#2b2233" stroke-width="1.95" stroke-linejoin="round"/><circle cx="2321.8" cy="1187.2" r="2.65" fill="none" stroke="#2b2233" stroke-width="1.95"/></svg>
<div class="box" style="left:2239px;top:1277px;width:139px;height:57px;border-color:#ebe8ef;border-width:1.5px"></div>
<div class="ln" style="left:2308px;top:1278px;width:1px;height:55px;background:#e2dee7"></div>
<svg class="i" style="left:2260px;top:1290px" width="100" height="32" viewBox="2260 1290 100 32" ><path d="M2279.6 1296 L2270 1305.6 L2279.6 1315.2 M2338 1296 L2347.6 1305.6 L2338 1315.2" fill="none" stroke="#a9a0b9" stroke-width="2.4" stroke-linecap="round" stroke-linejoin="miter"/></svg>
</div></body></html>
